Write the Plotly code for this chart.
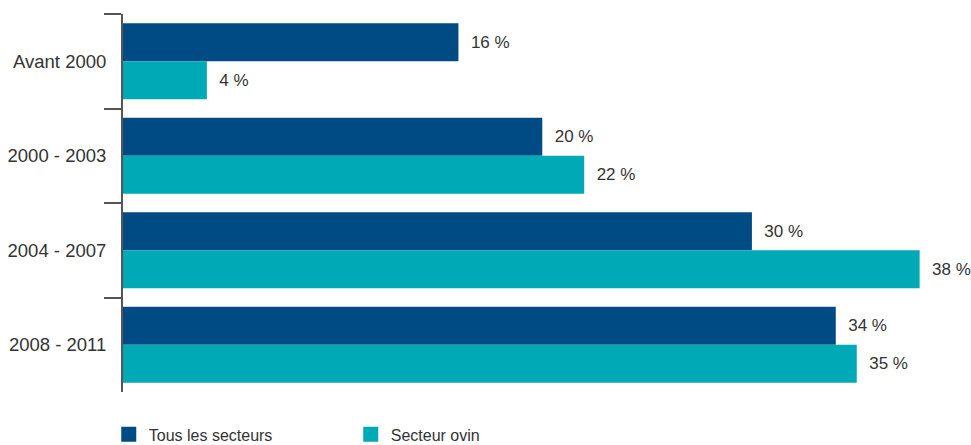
import plotly.graph_objects as go

# Share of holdings by installation period (%)
periods = ["Avant 2000", "2000 - 2003", "2004 - 2007", "2008 - 2011"]
tous_secteurs = [16, 20, 30, 34]
secteur_ovin = [4, 22, 38, 35]
series_names = ["Tous les secteurs", "Secteur ovin"]

DARK_BLUE = "#004B84"
TEAL = "#00A9B6"
TEXT = "#333333"
AXIS = "#555555"
FONT = "Liberation Sans, Arial, Helvetica, sans-serif"

fig = go.Figure()
for name, vals, color in [(series_names[0], tous_secteurs, DARK_BLUE),
                          (series_names[1], secteur_ovin, TEAL)]:
    fig.add_trace(go.Bar(
        y=periods, x=vals, orientation="h", name=name,
        marker=dict(color=color, line=dict(width=0)),
        text=[f"\u00a0\u00a0{v} %" for v in vals],
        textposition="outside", cliponaxis=False, constraintext="none",
        textfont=dict(family=FONT, size=17, color=TEXT),
        showlegend=False, hoverinfo="skip",
    ))
    # legend swatch
    fig.add_trace(go.Scatter(
        x=[None], y=[None], mode="markers", name=name,
        marker=dict(symbol="square", size=15, color=color),
        showlegend=True, hoverinfo="skip",
    ))

fig.update_layout(
    width=971, height=445,
    margin=dict(l=123, r=0, t=14, b=53, autoexpand=False),
    paper_bgcolor="white", plot_bgcolor="white",
    barmode="group", bargap=0.195, bargroupgap=0,
    font=dict(family=FONT, color=TEXT),
    showlegend=True,
    legend=dict(
        orientation="h",
        xref="container", x=0.112, xanchor="left",
        yref="container", y=0.062, yanchor="top",
        font=dict(family=FONT, size=16, color=TEXT),
        entrywidth=197, entrywidthmode="pixels",
        bgcolor="rgba(0,0,0,0)", borderwidth=0,
    ),
    xaxis=dict(range=[0, 40.45], visible=False, fixedrange=True),
    yaxis=dict(
        type="category", autorange="reversed",
        showline=True, linecolor=AXIS, linewidth=2,
        ticks="outside", tickson="boundaries", ticklen=17, tickwidth=2,
        tickcolor=AXIS, showgrid=False, zeroline=False,
        ticklabelstandoff=11,
        tickfont=dict(family=FONT, size=18.5, color=TEXT),
        fixedrange=True,
    ),
)

fig.write_html("out.html")
